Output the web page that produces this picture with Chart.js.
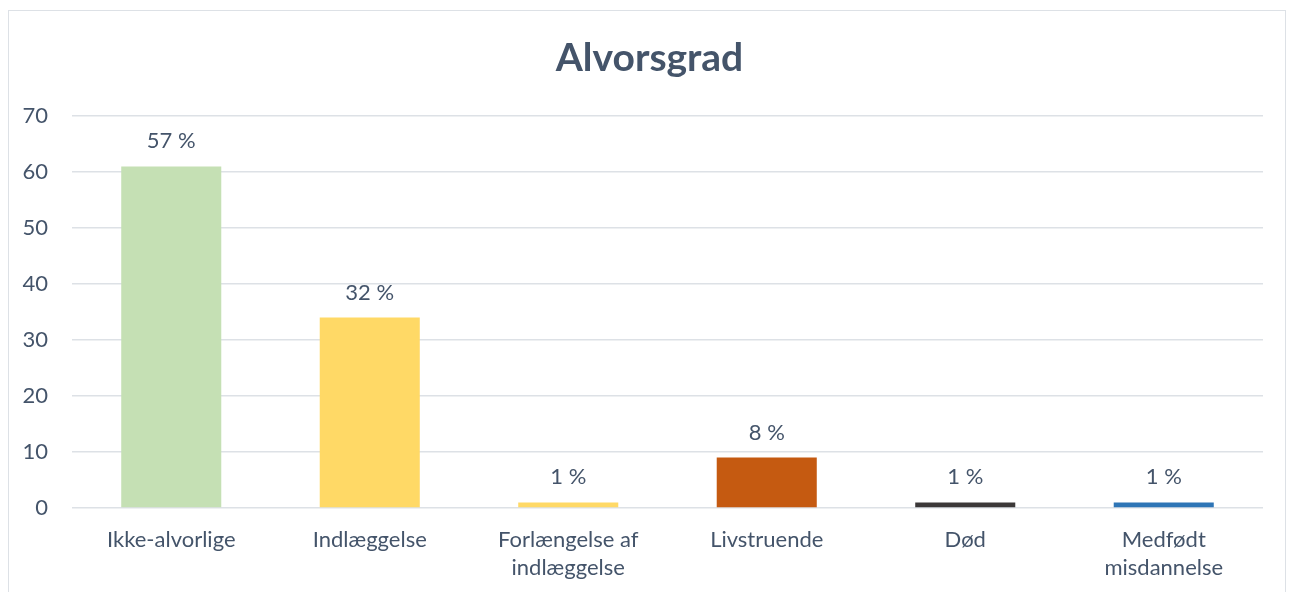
<!DOCTYPE html>
<html><head><meta charset="utf-8">
<script src="https://cdn.jsdelivr.net/npm/chart.js@4/dist/chart.umd.min.js"></script>
<style>
html,body{margin:0;padding:0;background:#fff;}
#frame{position:absolute;left:8px;top:10px;width:1278px;height:600px;border:1px solid #DDE1E6;box-sizing:border-box;}
#wrap{position:absolute;left:0;top:0;width:1291px;height:592px;}
</style></head><body>
<div id="frame"></div>
<div id="wrap"><canvas id="c" width="1291" height="592"></canvas></div>
<script>
const chartTitle = 'Alvorsgrad';
const categories = ['Ikke-alvorlige','Indlæggelse',['Forlængelse af','indlæggelse'],'Livstruende','Død',['Medfødt','misdannelse']];
const counts = [61, 34, 1, 9, 1, 1];
const percentLabels = ['57 %','32 %','1 %','8 %','1 %','1 %'];
const barColors = ['#C5E0B4','#FFD966','#FFD966','#C55A11','#3B3838','#2E75B6'];
const yTicks = [0,10,20,30,40,50,60,70];

const TXT = '#44546A';
const FONT = 'Lato, "Open Sans", sans-serif';

const labelPlugin = {
  id:'barLabels',
  afterDatasetsDraw(chart){
    const ctx = chart.ctx;
    const meta = chart.getDatasetMeta(0);
    ctx.save();
    ctx.font = '22px ' + FONT;
    ctx.fillStyle = TXT;
    ctx.textAlign = 'center';
    ctx.textBaseline = 'middle';
    meta.data.forEach((bar,i)=>{
      ctx.fillText(percentLabels[i], bar.x, bar.y - 25);
    });
    ctx.restore();
  }
};

const titlePlugin = {
  id:'centeredTitle',
  afterDraw(chart){
    const ctx = chart.ctx;
    ctx.save();
    ctx.font = 'bold 39px ' + FONT;
    ctx.fillStyle = TXT;
    ctx.textAlign = 'center';
    ctx.textBaseline = 'middle';
    ctx.fillText(chartTitle, chart.width / 2 + 4, 58);
    ctx.restore();
  }
};

new Chart(document.getElementById('c'), {
  type:'bar',
  data:{labels:categories, datasets:[{data:counts, backgroundColor:barColors, categoryPercentage:1, barPercentage:0.504, borderWidth:0}]},
  options:{
    responsive:false, animation:false,
    layout:{padding:{left:0,right:28,top:116,bottom:0}},
    plugins:{
      legend:{display:false}, tooltip:{enabled:false}, title:{display:false}
    },
    scales:{
      y:{
        min:0, max:70,
        afterBuildTicks(s){ s.ticks = yTicks.map(v=>({value:v})); },
        afterFit(s){ s.width = 72; },
        border:{display:false},
        grid:{color:'#DDE1E6', lineWidth:1.5, drawTicks:false},
        ticks:{color:TXT, font:{family:FONT, size:22}, padding:24}
      },
      x:{
        afterFit(s){ s.height = 84; },
        border:{display:false},
        grid:{display:false, drawTicks:false},
        ticks:{color:TXT, font:{family:FONT, size:22, lineHeight:1.27}, padding:18, maxRotation:0, autoSkip:false}
      }
    }
  },
  plugins:[labelPlugin, titlePlugin]
});
</script>
</body></html>
